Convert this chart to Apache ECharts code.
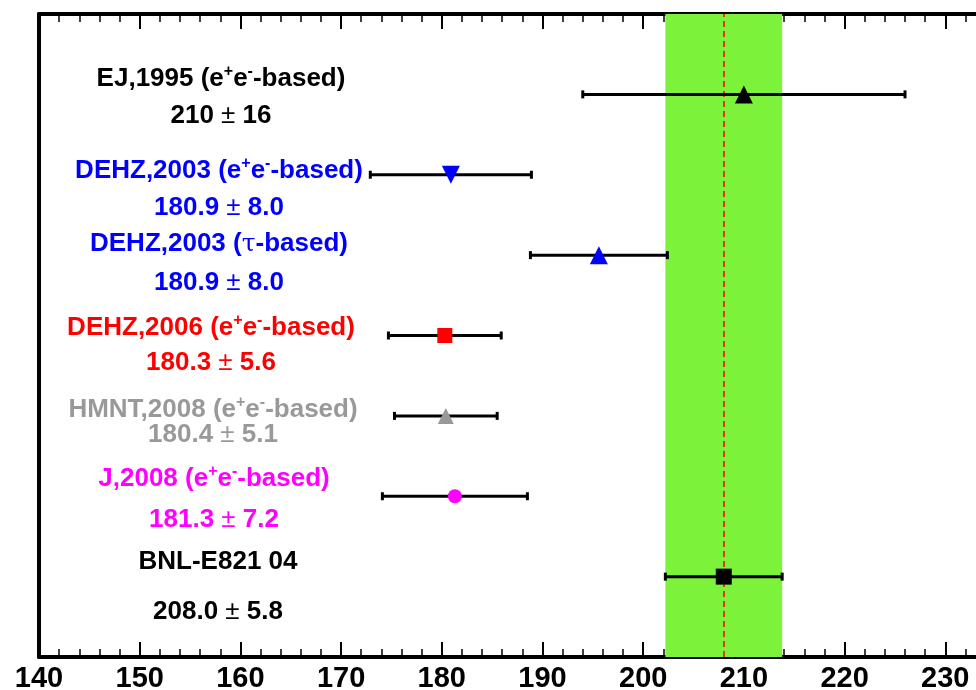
<!DOCTYPE html>
<html>
<head>
<meta charset="utf-8">
<title>Hadronic contribution comparison</title>
<script src="https://cdn.jsdelivr.net/npm/echarts@6/dist/echarts.min.js"></script>
<style>
  html, body { margin: 0; padding: 0; background: #ffffff; }
  #chart { width: 976px; height: 690px; }
</style>
</head>
<body>
<div id="chart"></div>
<script>
// Measurements: central value, symmetric uncertainty and row (top = 7)
const experiments = ['EJ,1995', 'DEHZ,2003', 'DEHZ,2003', 'DEHZ,2006', 'HMNT,2008', 'J,2008', 'BNL-E821 04'];
const methods = ['e+e-', 'e+e-', 'tau', 'e+e-', 'e+e-', 'e+e-', 'exp'];
const centralValues = [210.0, 180.9, 195.6, 180.3, 180.4, 181.3, 208.0];
const uncertainties = [16.0, 8.0, 6.8, 5.6, 5.1, 7.2, 5.8];
const rows = [7, 6, 5, 4, 3, 2, 1];
// Value captions as printed next to each entry
const valueCaptions = ['210 ± 16', '180.9 ± 8.0', '180.9 ± 8.0', '180.3 ± 5.6', '180.4 ± 5.1', '181.3 ± 7.2', '208.0 ± 5.8'];
// Axis range and ticks
const xMin = 140, xMax = 240, xStep = 10;
const yMin = 0, yMax = 8;
// Reference entry (experiment) drives the shaded band
const refIndex = 6;

// Styling per entry
const entryColors = ['#000000', '#0000ff', '#0000ff', '#ff0000', '#999999', '#ff00ff', '#000000'];
const entrySymbols = ['triangle', 'triangle', 'triangle', 'rect', 'triangle', 'circle', 'rect'];
const entryRotate = [0, 180, 0, 0, 0, 0, 0];
const entrySizes = [18, 18, 18, 15, 16, 14, 16];

// Caption placement (pixel centres of the two text lines)
const captionLayout = [
  { x: 221, y1: 79,  y2: 116 },
  { x: 219, y1: 171, y2: 208 },
  { x: 219, y1: 244, y2: 283 },
  { x: 211, y1: 328, y2: 363 },
  { x: 213, y1: 410, y2: 435 },
  { x: 214, y1: 479, y2: 520 },
  { x: 218, y1: 562, y2: 612 }
];

const FONT = '"Liberation Sans", Arial, Helvetica, sans-serif';

function titleRich(i) {
  const name = experiments[i];
  if (methods[i] === 'e+e-') {
    return '{b|' + name + ' (e}{s|+}{b|e}{s|-}{b|-based)}';
  } else if (methods[i] === 'tau') {
    return '{b|' + name + ' (}{g|τ}{b|-based)}';
  }
  return '{b|' + name + '}';
}
function valueRich(i) {
  const parts = valueCaptions[i].split('±');
  return '{b|' + parts[0] + '}{p|±}{b|' + parts[1] + '}';
}
function richStyles(color) {
  return {
    b: { fontFamily: FONT, fontSize: 26, fontWeight: 'bold', fill: color, lineHeight: 30 },
    s: { fontFamily: FONT, fontSize: 16, fontWeight: 'bold', fill: color, lineHeight: 14, verticalAlign: 'top' },
    g: { fontFamily: '"DejaVu Serif", serif', fontSize: 25, fontWeight: 'normal', fill: color, lineHeight: 30 },
    p: { fontFamily: FONT, fontSize: 26, fontWeight: 'normal', fill: color, lineHeight: 30 }
  };
}

const captionGraphics = [];
experiments.forEach(function (_, i) {
  const L = captionLayout[i];
  captionGraphics.push({
    type: 'text', x: L.x, y: L.y1, z: 10,
    style: { text: titleRich(i), rich: richStyles(entryColors[i]), align: 'center', verticalAlign: 'middle' }
  });
  captionGraphics.push({
    type: 'text', x: L.x, y: L.y2, z: 10,
    style: { text: valueRich(i), rich: richStyles(entryColors[i]), align: 'center', verticalAlign: 'middle' }
  });
});

const errorData = centralValues.map(function (v, i) {
  return [v - uncertainties[i], v + uncertainties[i], rows[i]];
});
const pointData = centralValues.map(function (v, i) {
  return {
    value: [v, rows[i]],
    symbol: entrySymbols[i],
    symbolSize: entrySizes[i],
    symbolRotate: entryRotate[i],
    itemStyle: { color: entryColors[i], opacity: 1 }
  };
});

const axisCommon = {
  type: 'value',
  min: xMin, max: xMax, interval: xStep,
  splitLine: { show: false },
  axisLine: { show: true, onZero: false, lineStyle: { color: '#000', width: 4 } },
  axisTick: { show: true, inside: true, length: 15, lineStyle: { color: '#000', width: 2 } },
  minorTick: { show: true, splitNumber: 5, length: 8, lineStyle: { color: '#000', width: 1.5 } },
  minorSplitLine: { show: false }
};

const chart = echarts.init(document.getElementById('chart'), null, { renderer: 'canvas' });
chart.setOption({
  animation: false,
  backgroundColor: '#ffffff',
  grid: { left: 39, right: -70, top: 14, bottom: 33, containLabel: false, outerBoundsMode: 'none' },
  xAxis: [
    Object.assign({}, axisCommon, {
      position: 'bottom',
      axisLabel: { show: true, color: '#000', fontFamily: FONT, fontSize: 29, fontWeight: 'bold', margin: 7 }
    }),
    Object.assign({}, axisCommon, {
      position: 'top',
      axisLabel: { show: false }
    })
  ],
  yAxis: {
    type: 'value', min: yMin, max: yMax,
    axisLine: { show: true, onZero: false, lineStyle: { color: '#000', width: 4 } },
    axisTick: { show: false },
    axisLabel: { show: false },
    splitLine: { show: false }
  },
  graphic: captionGraphics,
  series: [
    {
      // shaded band and dashed centre line of the reference measurement
      type: 'line',
      data: [],
      z: 0,
      markArea: {
        silent: true,
        itemStyle: { color: '#7cf23a', opacity: 1 },
        data: [[
          { xAxis: centralValues[refIndex] - uncertainties[refIndex] },
          { xAxis: centralValues[refIndex] + uncertainties[refIndex] }
        ]]
      },
      markLine: {
        silent: true,
        symbol: ['none', 'none'],
        label: { show: false },
        lineStyle: { color: '#ff0000', width: 1.5, type: [6, 4] },
        data: [{ xAxis: centralValues[refIndex] }]
      }
    },
    {
      // horizontal uncertainty bars with end caps
      type: 'custom',
      z: 5,
      data: errorData,
      renderItem: function (params, api) {
        const lo = api.coord([api.value(0), api.value(2)]);
        const hi = api.coord([api.value(1), api.value(2)]);
        return {
          type: 'group',
          children: [
            { type: 'line', shape: { x1: lo[0], y1: lo[1], x2: hi[0], y2: hi[1] }, style: { stroke: '#000', lineWidth: 3 } },
            { type: 'rect', shape: { x: lo[0] - 1.5, y: lo[1] - 4, width: 3, height: 8 }, style: { fill: '#000' } },
            { type: 'rect', shape: { x: hi[0] - 1.5, y: hi[1] - 4, width: 3, height: 8 }, style: { fill: '#000' } }
          ]
        };
      }
    },
    {
      type: 'scatter',
      z: 8,
      data: pointData
    }
  ]
});
</script>
</body>
</html>
